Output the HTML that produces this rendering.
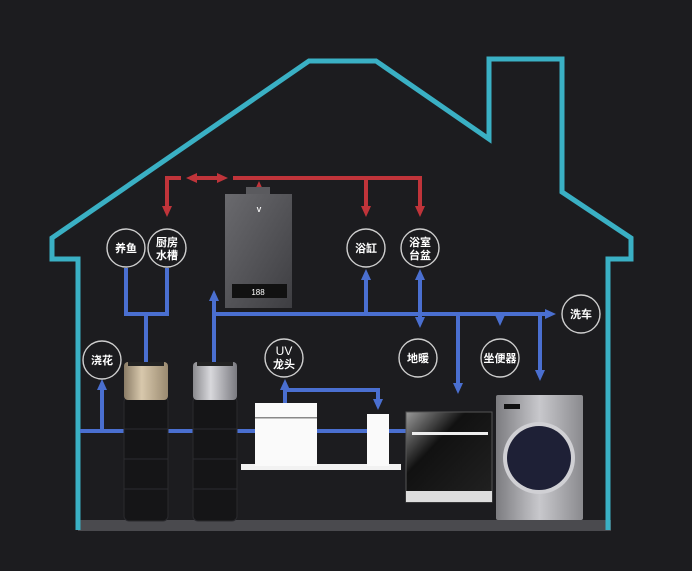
<!DOCTYPE html>
<html><head><meta charset="utf-8"><style>
html,body{margin:0;padding:0;background:#1c1c1f;}
svg{display:block}
text{font-family:"Liberation Sans","Noto Sans CJK SC",sans-serif;fill:#fff;font-weight:bold;font-size:11px;text-anchor:middle}
</style></head><body>
<svg width="692" height="571" viewBox="0 0 692 571" xmlns="http://www.w3.org/2000/svg">
<defs>
<marker id="ab" markerWidth="12" markerHeight="12" refX="6" refY="6" orient="auto" markerUnits="userSpaceOnUse" viewBox="0 0 12 12"><path d="M0,1 L11,6 L0,11z" fill="#4a6fd0"/></marker>
<marker id="ar" markerWidth="12" markerHeight="12" refX="6" refY="6" orient="auto" markerUnits="userSpaceOnUse" viewBox="0 0 12 12"><path d="M0,1 L11,6 L0,11z" fill="#c0343a"/></marker>
<marker id="ars" markerWidth="12" markerHeight="12" refX="6" refY="6" orient="auto-start-reverse" markerUnits="userSpaceOnUse" viewBox="0 0 12 12"><path d="M0,1 L11,6 L0,11z" fill="#c0343a"/></marker>
<linearGradient id="hg" x1="0" y1="0" x2="1" y2="1"><stop offset="0" stop-color="#6a6a6e"/><stop offset="1" stop-color="#3e3e42"/></linearGradient>
<linearGradient id="gold" x1="0" y1="0" x2="1" y2="0"><stop offset="0" stop-color="#8a7c66"/><stop offset=".4" stop-color="#d8c8ac"/><stop offset="1" stop-color="#9a8a70"/></linearGradient>
<linearGradient id="silv" x1="0" y1="0" x2="1" y2="0"><stop offset="0" stop-color="#8a8a8e"/><stop offset=".4" stop-color="#d8d8dc"/><stop offset="1" stop-color="#7a7a80"/></linearGradient>
<linearGradient id="dw" x1="0" y1="0" x2="1" y2="1"><stop offset="0" stop-color="#999"/><stop offset=".35" stop-color="#111"/><stop offset="1" stop-color="#222"/></linearGradient>
<linearGradient id="wm" x1="0" y1="0" x2="1" y2="0"><stop offset="0" stop-color="#7c7c80"/><stop offset=".5" stop-color="#c8c8cc"/><stop offset="1" stop-color="#8a8a8e"/></linearGradient>
</defs>
<rect width="692" height="571" fill="#1c1c1f"/>
<rect x="78" y="520" width="533" height="11" fill="#4a4a4e"/>
<path d="M78,530 L78,259 L52,259 L52,238 L309,61 L376,61 L489,139 L489,59 L562,59 L562,192 L631,238 L631,259 L608,259 L608,530" fill="none" stroke="#3ab0c4" stroke-width="5"/>
<g stroke="#c0343a" stroke-width="4" fill="none">
<path d="M181,178 L167,178 L167,212" marker-end="url(#ar)"/>
<path d="M191,178 L223,178" marker-end="url(#ars)" marker-start="url(#ars)"/>
<path d="M233,178 L420,178 L420,212" marker-end="url(#ar)"/>
<path d="M366,178 L366,212" marker-end="url(#ar)"/>
<path d="M259,190 L259,186" marker-end="url(#ar)"/>
</g>
<rect x="246" y="187" width="24" height="9" fill="#5a5a5e"/>
<rect x="225" y="194" width="67" height="114" fill="url(#hg)"/>
<rect x="232" y="284" width="55" height="14" fill="#111"/>
<text x="258" y="295" style="font-size:8px;font-weight:normal">188</text>
<text x="259" y="212" style="font-size:7px">V</text>
<g stroke="#4a6fd0" stroke-width="4" fill="none">
<path d="M126,268 L126,314 L167,314 L167,268"/>
<path d="M146,314 L146,362"/>
<path d="M214,362 L214,295" marker-end="url(#ab)"/>
<path d="M214,314 L551,314" marker-end="url(#ab)"/>
<path d="M366,314 L366,274" marker-end="url(#ab)"/>
<path d="M420,314 L420,274" marker-end="url(#ab)"/>
<path d="M420,314 L420,323" marker-end="url(#ab)"/>
<path d="M500,314 L500,321" marker-end="url(#ab)"/>
<path d="M458,314 L458,389" marker-end="url(#ab)"/>
<path d="M540,314 L540,376" marker-end="url(#ab)"/>
<path d="M80,431 L410,431"/>
<path d="M102,431 L102,384" marker-end="url(#ab)"/>
<path d="M285,404 L285,384" marker-end="url(#ab)"/>
<path d="M285,390 L378,390 L378,405" marker-end="url(#ab)"/>
</g>
<g fill="#1c1c1f" stroke="#cfcfcf" stroke-width="1.4">
<circle cx="126" cy="248" r="19"/><circle cx="167" cy="248" r="19"/>
<circle cx="366" cy="248" r="19"/><circle cx="420" cy="248" r="19"/>
<circle cx="581" cy="314" r="19"/><circle cx="418" cy="358" r="19"/>
<circle cx="500" cy="358" r="19"/><circle cx="102" cy="360" r="19"/>
<circle cx="284" cy="358" r="19"/>
</g>
<text x="126" y="252">养鱼</text>
<text x="167" y="246">厨房</text><text x="167" y="259">水槽</text>
<text x="366" y="252">浴缸</text>
<text x="420" y="246">浴室</text><text x="420" y="259">台盆</text>
<text x="581" y="318">洗车</text>
<text x="418" y="362">地暖</text>
<text x="500" y="362">坐便器</text>
<text x="102" y="364">浇花</text>
<text x="284" y="355" style="font-weight:normal;font-size:12px">UV</text><text x="284" y="368">龙头</text>
<rect x="124" y="397" width="44" height="124" rx="5" fill="#151517" stroke="#2a2a2e"/>
<rect x="124" y="362" width="44" height="38" rx="4" fill="url(#gold)"/>
<rect x="128" y="362" width="36" height="4" fill="#222"/>
<rect x="193" y="397" width="44" height="124" rx="5" fill="#151517" stroke="#2a2a2e"/>
<rect x="193" y="362" width="44" height="38" rx="4" fill="url(#silv)"/>
<rect x="197" y="362" width="36" height="4" fill="#222"/>
<g stroke="#2c2c30" stroke-width="1"><path d="M124,429H168M124,459H168M124,489H168M193,429H237M193,459H237M193,489H237"/></g>
<rect x="241" y="464" width="160" height="6" fill="#f2f2f2"/>
<rect x="255" y="403" width="62" height="63" fill="#fafafa"/>
<rect x="255" y="417" width="62" height="1.5" fill="#888"/>
<rect x="367" y="414" width="22" height="52" fill="#fafafa"/>
<rect x="406" y="412" width="86" height="90" fill="url(#dw)" stroke="#555"/>
<rect x="412" y="432" width="76" height="3" fill="#eee"/>
<rect x="406" y="491" width="86" height="11" fill="#ddd"/>
<rect x="496" y="395" width="87" height="125" rx="2" fill="url(#wm)"/>
<rect x="504" y="404" width="16" height="5" fill="#111"/>
<circle cx="539" cy="458" r="36" fill="#d0d0d4"/>
<circle cx="539" cy="458" r="32" fill="#1e2036"/>
</svg>
</body></html>
